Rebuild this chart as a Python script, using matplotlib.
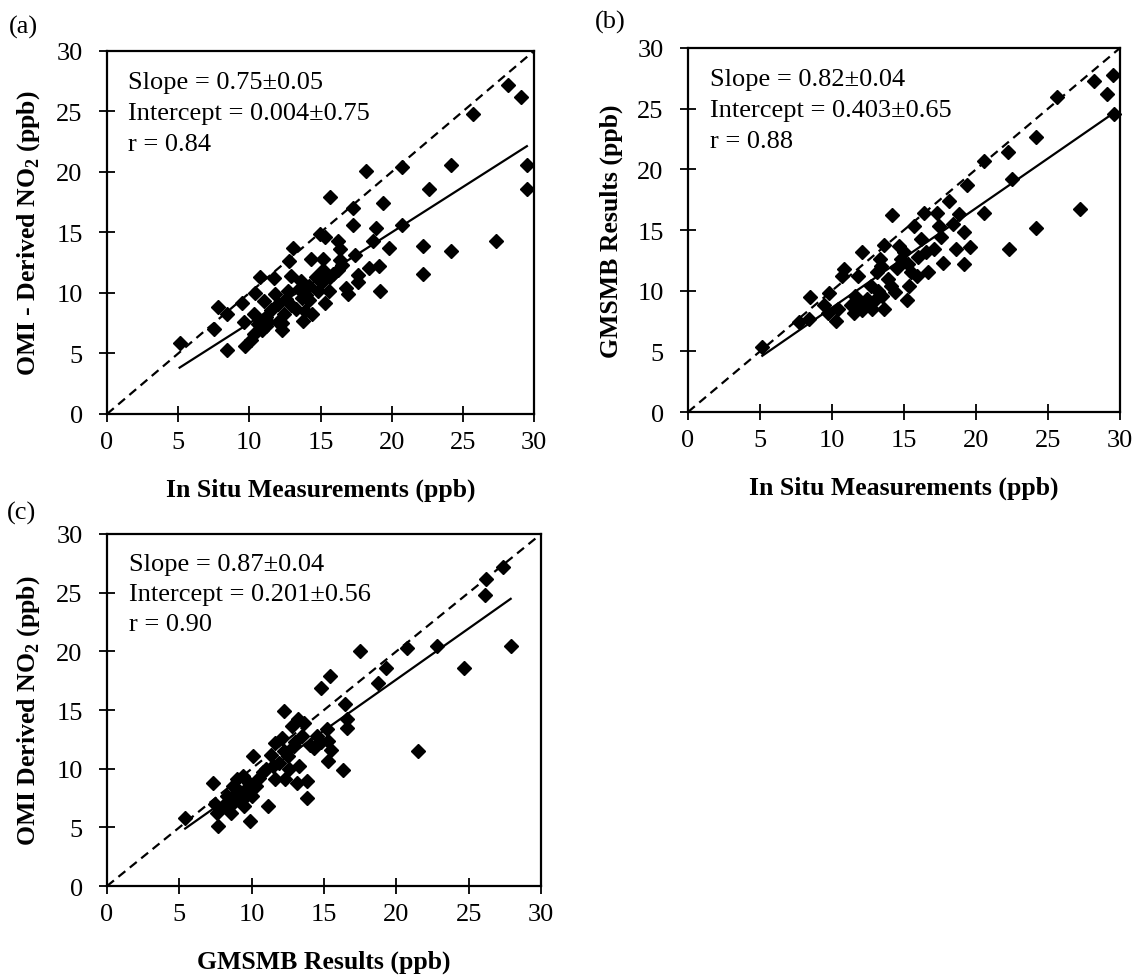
import matplotlib
matplotlib.use("Agg")
import matplotlib.pyplot as plt

plt.rcParams["font.family"] = ["Liberation Serif", "DejaVu Serif"]
plt.rcParams["mathtext.fontset"] = "custom"
plt.rcParams["mathtext.rm"] = "Liberation Serif"

# (a) in situ vs OMI
a_x = [5.1, 7.8, 8.4, 7.5, 8.4, 9.5, 9.6, 9.7, 10.4, 10.3, 10.75, 11.0, 11.7,
       10.3, 10.1, 10.9, 11.2, 11.8, 12.3, 12.8, 12.9, 13.1, 12.0, 12.4, 12.3,
       12.9, 13.7, 13.8, 13.9, 14.3, 14.2, 14.85, 15.1, 14.95, 15.3, 15.2,
       15.7, 16.25, 16.4, 15.9, 16.5, 16.8, 16.9, 17.3, 17.3, 17.4, 17.6, 17.6,
       18.2, 18.4, 18.7, 18.9, 19.1, 19.2, 19.4, 19.8, 20.7, 20.7, 22.2, 22.2,
       22.6, 24.2, 24.2, 25.7, 27.3, 28.2, 29.1, 29.5, 29.5,
       13.5, 14.2, 14.7, 15.2, 15.7, 16.2, 16.4, 15.6, 15.3, 14.4, 14.0, 12.6,
       11.5, 11.3, 12.0, 10.6, 13.3, 11.2, 12.7, 13.6]
a_y = [5.9, 8.8, 8.3, 7.0, 5.3, 9.2, 7.6, 5.6, 10.0, 8.3, 11.3, 9.3, 11.2,
       6.6, 6.1, 6.9, 7.3, 9.9, 6.9, 12.6, 11.4, 13.7, 9.1, 8.3, 7.5,
       9.0, 9.6, 7.7, 8.5, 12.8, 9.4, 10.2, 10.9, 14.9, 14.6, 12.8,
       17.9, 14.3, 13.6, 11.6, 12.3, 10.4, 9.9, 17.0, 15.6, 13.1, 11.5, 10.9,
       20.1, 12.1, 14.3, 15.4, 12.2, 10.2, 17.4, 13.7, 20.4, 15.6, 13.9, 11.6,
       18.6, 20.6, 13.5, 24.8, 14.3, 27.2, 26.2, 20.6, 18.6,
       10.3, 10.6, 11.3, 11.9, 11.3, 11.9, 12.7, 10.2, 9.2, 8.3, 9.8, 9.5,
       8.6, 7.6, 7.6, 7.4, 8.7, 8.0, 10.2, 11.0]

# (b) in situ vs GMSMB
b_x = [5.16, 7.7, 8.4, 8.5, 9.8, 9.45, 9.7, 10.25, 10.4, 10.8, 10.7, 11.8,
       12.1, 11.6, 11.3, 11.5, 12.1, 12.45, 12.8, 13.15, 13.3, 13.4, 13.6,
       13.5, 13.6, 14.2, 14.1, 14.4, 14.65, 14.8, 15.0, 15.2, 15.5, 15.35,
       15.7, 15.9, 16.15, 16.4, 16.5, 16.7, 17.1, 17.3, 17.4, 17.55, 17.7,
       18.1, 18.4, 18.8, 18.6, 19.2, 19.2, 19.4, 19.6, 20.55, 20.55, 22.2,
       22.3, 22.5, 24.2, 24.2, 25.6, 27.2, 28.2, 29.1, 29.5, 29.6,
       11.9, 12.3, 13.0, 13.9, 14.5, 15.3, 16.0, 12.7, 13.2]
b_y = [5.34, 7.4, 7.7, 9.5, 9.8, 8.8, 8.2, 7.5, 8.5, 11.8, 11.2, 11.2,
       13.15, 9.6, 8.8, 8.2, 8.4, 9.3, 8.5, 11.5, 12.6, 12.05, 13.8,
       9.6, 8.5, 16.2, 10.4, 9.9, 13.7, 12.6, 13.15, 9.2, 11.5, 10.4,
       15.3, 11.2, 14.25, 16.4, 13.15, 11.55, 13.4, 16.4, 15.3, 14.4, 12.3,
       17.4, 15.5, 16.3, 13.4, 14.8, 12.2, 18.7, 13.6, 20.7, 16.4, 21.4,
       13.4, 19.2, 22.7, 15.2, 26.0, 16.7, 27.3, 26.2, 27.8, 24.6,
       8.9, 9.0, 9.2, 11.0, 11.9, 12.2, 12.8, 10.4, 10.0]

# (c) GMSMB vs OMI
c_x = [5.4, 7.3, 7.45, 7.7, 7.6, 8.0, 8.3, 8.6, 8.7, 8.95, 9.2, 9.4, 9.5,
       9.9, 9.8, 10.0, 10.1, 10.3, 10.8, 11.15, 11.3, 11.5, 11.6, 11.6, 12.1,
       12.2, 12.2, 12.3, 12.5, 12.8, 12.9, 13.1, 13.2, 13.3, 13.6, 13.45,
       13.8, 13.8, 14.3, 14.5, 14.8, 15.2, 15.3, 15.4, 15.5, 15.3, 16.3,
       16.45, 16.6, 16.6, 17.5, 18.75, 19.3, 20.7, 21.5, 22.8, 24.7, 26.1,
       26.2, 27.4, 27.9,
       8.8, 9.0, 9.3, 10.5, 11.0, 11.9, 12.6, 13.0, 14.0, 14.8, 9.6]
c_y = [5.8, 8.8, 7.0, 5.1, 6.25, 6.8, 7.7, 6.25, 8.5, 9.1, 8.0, 9.4, 6.8,
       5.5, 8.8, 7.7, 11.1, 8.5, 9.7, 6.8, 11.2, 10.2, 9.1, 12.2, 12.6,
       14.9, 11.5, 9.1, 11.1, 13.6, 11.9, 8.8, 14.2, 10.2, 13.9, 12.8,
       8.95, 7.5, 11.8, 12.8, 16.9, 13.35, 12.4, 17.9, 11.6, 10.65, 9.9,
       15.5, 14.2, 13.5, 20.0, 17.3, 18.6, 20.3, 11.5, 20.45, 18.6, 24.8,
       26.2, 27.2, 20.45,
       7.2, 8.0, 7.3, 9.2, 10.0, 10.5, 10.0, 12.3, 12.0, 12.3, 8.3]

stats_a = ["Slope = 0.75\u00b10.05", "Intercept = 0.004\u00b10.75", "r = 0.84"]
stats_b = ["Slope = 0.82\u00b10.04", "Intercept = 0.403\u00b10.65", "r = 0.88"]
stats_c = ["Slope = 0.87\u00b10.04", "Intercept = 0.201\u00b10.56", "r = 0.90"]
fits = {"a": (0.75, 0.004), "b": (0.82, 0.403), "c": (0.87, 0.201)}

TICKS = [0, 5, 10, 15, 20, 25, 30]


def _panel(ax, xs, ys, fit, stats, xlabel, ylabel):
  slope, intercept = fit
  # 1:1 reference line and the fitted regression line
  ax.plot([0, 30], [0, 30], color="black", linewidth=1.6,
          linestyle=(0, (4, 2.6)))
  x0, x1 = min(xs), max(xs)
  ax.plot([x0, x1], [slope * x0 + intercept, slope * x1 + intercept],
          color="black", linewidth=1.6)
  ax.plot(xs, ys, linestyle="none", marker="D", markersize=7.4,
          color="black", clip_on=False)
  ax.set_xlim(0, 30)
  ax.set_ylim(0, 30)
  ax.set_xticks(TICKS)
  ax.set_yticks(TICKS)
  ax.tick_params(direction="inout", length=12, width=1.3, labelsize=19)
  ax.tick_params(axis="x", pad=6)
  ax.tick_params(axis="y", pad=11.5)
  for spine in ax.spines.values():
    spine.set_linewidth(1.6)
  for i, line in enumerate(stats):
    ax.text(0.05, 0.915 - 0.085 * i, line, transform=ax.transAxes,
            fontsize=19, va="center", ha="left")
  ax.set_xlabel(xlabel, fontsize=18.5, fontweight="bold", labelpad=18)
  ax.set_ylabel(ylabel, fontsize=18.5, fontweight="bold", labelpad=10.5)


fig = plt.figure(figsize=(11.41, 9.78), dpi=100)
ax_a = fig.add_axes([0.0938, 0.5757, 0.3742, 0.3712])
ax_b = fig.add_axes([0.6030, 0.5777, 0.3786, 0.3722])
ax_c = fig.add_axes([0.0938, 0.0930, 0.3804, 0.3600])

_panel(ax_a, a_x, a_y, fits["a"], stats_a, "In Situ Measurements (ppb)",
       r"OMI - Derived NO$_\mathregular{2}$ (ppb)")
_panel(ax_b, b_x, b_y, fits["b"], stats_b, "In Situ Measurements (ppb)",
       "GMSMB Results (ppb)")
_panel(ax_c, c_x, c_y, fits["c"], stats_c, "GMSMB Results (ppb)",
       r"OMI Derived NO$_\mathregular{2}$ (ppb)")

fig.text(0.008, 0.972, "(a)", fontsize=19, va="center")
fig.text(0.521, 0.977, "(b)", fontsize=19, va="center")
fig.text(0.006, 0.475, "(c)", fontsize=19, va="center")

fig.savefig("out.png", dpi=100)
